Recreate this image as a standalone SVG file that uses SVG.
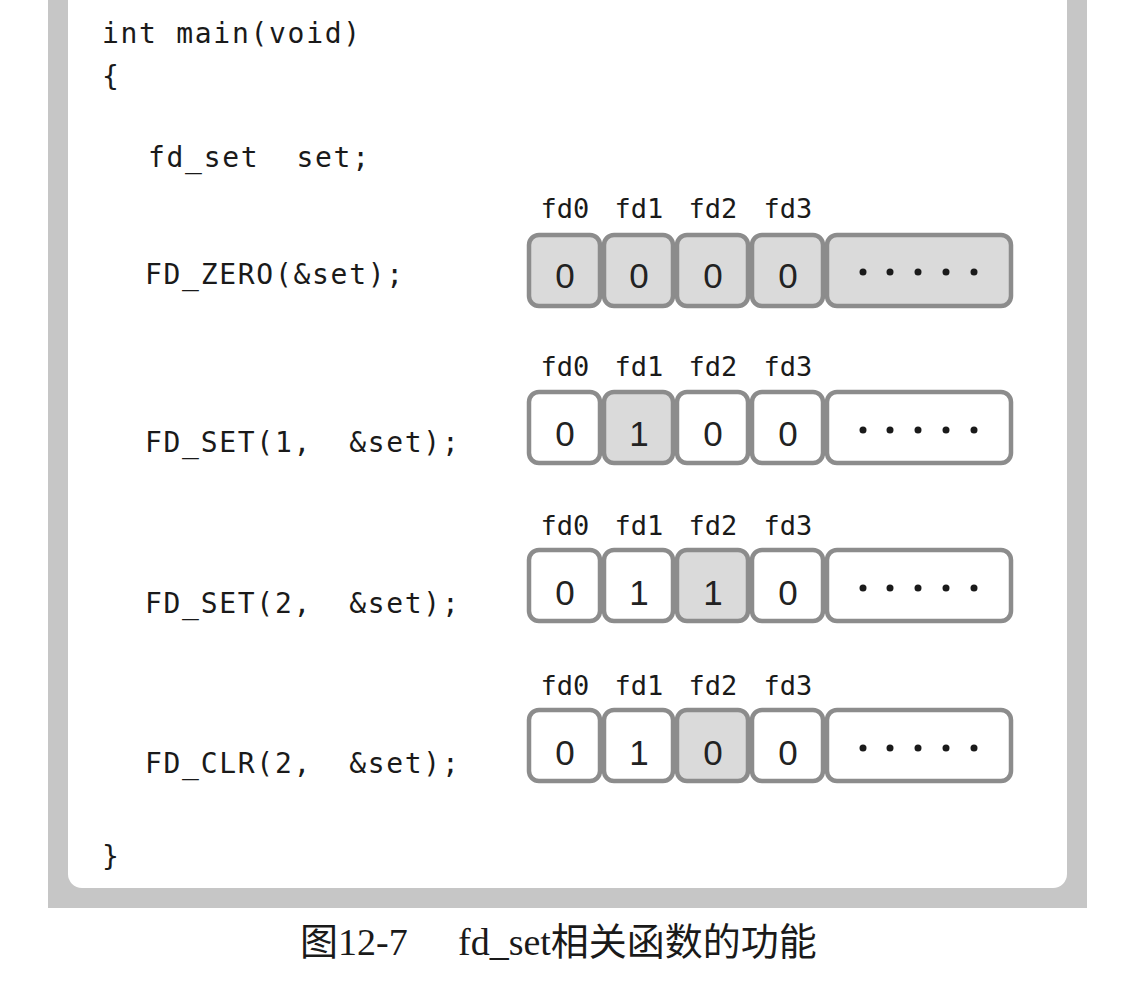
<svg xmlns="http://www.w3.org/2000/svg" width="1138" height="996" viewBox="0 0 1138 996">
<style>
.code{font-family:"DejaVu Sans Mono","Liberation Mono",monospace;font-size:28px;letter-spacing:1.7px;fill:#1a1a1a}
.lbl{font-family:"DejaVu Sans Mono","Liberation Mono",monospace;font-size:27px;fill:#1a1a1a;text-anchor:middle}
.dig{font-family:"Liberation Sans",Arial,sans-serif;font-size:35px;fill:#222;text-anchor:middle}
.on{fill:#dadada;stroke:#8c8c8c;stroke-width:4.5}
.off{fill:#ffffff;stroke:#8c8c8c;stroke-width:4.5}
.dot{fill:#1a1a1a}
.cap{font-family:"Liberation Serif","Noto Sans CJK SC",serif;font-size:38px;fill:#1a1a1a}
</style>
<defs>
<g id="dots">
<circle class="dot" cx="863" cy="0" r="3.5"/>
<circle class="dot" cx="890" cy="0" r="3.5"/>
<circle class="dot" cx="918" cy="0" r="3.5"/>
<circle class="dot" cx="946" cy="0" r="3.5"/>
<circle class="dot" cx="974" cy="0" r="3.5"/>
</g>
<g id="labels">
<text class="lbl" x="565" y="0">fd0</text>
<text class="lbl" x="639" y="0">fd1</text>
<text class="lbl" x="713" y="0">fd2</text>
<text class="lbl" x="788" y="0">fd3</text>
</g>
</defs>
<rect x="0" y="0" width="1138" height="996" fill="#ffffff"/>
<g id="frame">
<rect x="48" y="-30" width="1039" height="938" fill="#c6c6c6"/>
<rect x="68" y="-30" width="999" height="918" rx="14" fill="#ffffff"/>
</g>
<g id="code">
<text class="code" x="102" y="43">int main(void)</text>
<text class="code" x="102" y="86">{</text>
<text class="code" x="148" y="167" xml:space="preserve">fd_set  set;</text>
<text class="code" x="145" y="284">FD_ZERO(&amp;set);</text>
<text class="code" x="145" y="452" xml:space="preserve">FD_SET(1,  &amp;set);</text>
<text class="code" x="145" y="613" xml:space="preserve">FD_SET(2,  &amp;set);</text>
<text class="code" x="145" y="773" xml:space="preserve">FD_CLR(2,  &amp;set);</text>
<text class="code" x="102" y="866">}</text>
</g>
<g id="row1">
<use href="#labels" y="218"/>
<rect class="on" x="529" y="235" width="71" height="71" rx="10"/>
<rect class="on" x="604" y="235" width="69" height="71" rx="10"/>
<rect class="on" x="677" y="235" width="71" height="71" rx="10"/>
<rect class="on" x="752" y="235" width="71" height="71" rx="10"/>
<rect class="on" x="827" y="235" width="184" height="71" rx="10"/>
<text class="dig" x="565" y="288">0</text>
<text class="dig" x="639" y="288">0</text>
<text class="dig" x="713" y="288">0</text>
<text class="dig" x="788" y="288">0</text>
<use href="#dots" y="272"/>
</g>
<g id="row2">
<use href="#labels" y="376"/>
<rect class="off" x="529" y="392" width="71" height="71" rx="10"/>
<rect class="on" x="604" y="392" width="69" height="71" rx="10"/>
<rect class="off" x="677" y="392" width="71" height="71" rx="10"/>
<rect class="off" x="752" y="392" width="71" height="71" rx="10"/>
<rect class="off" x="827" y="392" width="184" height="71" rx="10"/>
<text class="dig" x="565" y="446">0</text>
<text class="dig" x="639" y="446">1</text>
<text class="dig" x="713" y="446">0</text>
<text class="dig" x="788" y="446">0</text>
<use href="#dots" y="430"/>
</g>
<g id="row3">
<use href="#labels" y="535"/>
<rect class="off" x="529" y="550" width="71" height="71" rx="10"/>
<rect class="off" x="604" y="550" width="69" height="71" rx="10"/>
<rect class="on" x="677" y="550" width="71" height="71" rx="10"/>
<rect class="off" x="752" y="550" width="71" height="71" rx="10"/>
<rect class="off" x="827" y="550" width="184" height="71" rx="10"/>
<text class="dig" x="565" y="605">0</text>
<text class="dig" x="639" y="605">1</text>
<text class="dig" x="713" y="605">1</text>
<text class="dig" x="788" y="605">0</text>
<use href="#dots" y="588"/>
</g>
<g id="row4">
<use href="#labels" y="695"/>
<rect class="off" x="529" y="710" width="71" height="71" rx="10"/>
<rect class="off" x="604" y="710" width="69" height="71" rx="10"/>
<rect class="on" x="677" y="710" width="71" height="71" rx="10"/>
<rect class="off" x="752" y="710" width="71" height="71" rx="10"/>
<rect class="off" x="827" y="710" width="184" height="71" rx="10"/>
<text class="dig" x="565" y="765">0</text>
<text class="dig" x="639" y="765">1</text>
<text class="dig" x="713" y="765">0</text>
<text class="dig" x="788" y="765">0</text>
<use href="#dots" y="748"/>
</g>
<g id="caption">
<text class="cap" y="955"><tspan x="300">图12-7</tspan><tspan x="458">fd_set相关函数的功能</tspan></text>
</g>
</svg>
